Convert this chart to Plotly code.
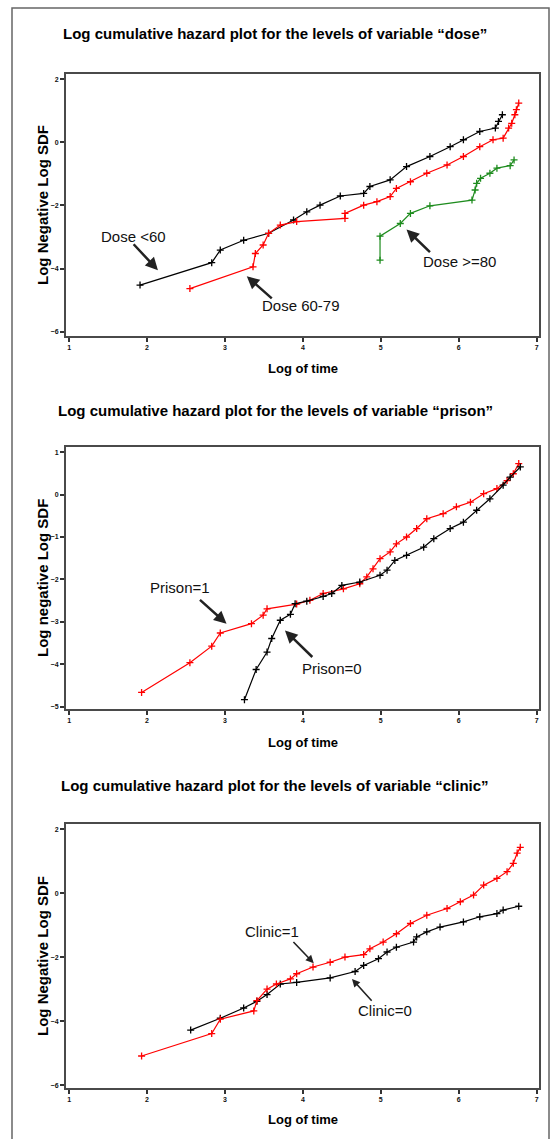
import plotly.graph_objects as go

W, H = 551, 1139

# ---------------- data (log time, log(-log S)) ----------------
dose_lt60_x = [1.91, 2.83, 2.94, 3.24, 3.56, 3.88, 4.05, 4.22, 4.48, 4.78, 4.86, 5.12, 5.33, 5.63, 5.89, 6.06, 6.27, 6.47, 6.51, 6.56]
dose_lt60_y = [-4.52, -3.81, -3.41, -3.10, -2.88, -2.46, -2.20, -1.99, -1.70, -1.62, -1.40, -1.19, -0.77, -0.45, -0.14, 0.08, 0.34, 0.45, 0.66, 0.87]

dose_6079_x = [2.55, 3.36, 3.39, 3.49, 3.56, 3.71, 3.92, 4.54, 4.54, 4.78, 4.95, 5.12, 5.20, 5.38, 5.59, 5.85, 6.06, 6.27, 6.44, 6.57, 6.64, 6.68, 6.72, 6.74, 6.77]
dose_6079_y = [-4.63, -3.94, -3.52, -3.25, -2.88, -2.62, -2.51, -2.41, -2.25, -1.99, -1.88, -1.72, -1.46, -1.25, -0.98, -0.72, -0.45, -0.14, 0.08, 0.13, 0.45, 0.60, 0.87, 1.03, 1.24]

dose_ge80_x = [4.99, 4.99, 5.25, 5.38, 5.63, 6.17, 6.21, 6.23, 6.28, 6.40, 6.49, 6.66, 6.71]
dose_ge80_y = [-3.73, -2.97, -2.57, -2.25, -2.01, -1.83, -1.51, -1.30, -1.14, -0.98, -0.82, -0.74, -0.56]

prison1_x = [1.93, 2.55, 2.83, 2.94, 3.34, 3.49, 3.54, 3.92, 4.09, 4.26, 4.52, 4.73, 4.82, 4.90, 4.99, 5.12, 5.20, 5.33, 5.46, 5.59, 5.80, 5.97, 6.15, 6.32, 6.49, 6.62, 6.70, 6.77]
prison1_y = [-4.66, -3.96, -3.57, -3.26, -3.04, -2.84, -2.69, -2.58, -2.49, -2.33, -2.22, -2.10, -1.94, -1.75, -1.51, -1.35, -1.16, -1.00, -0.80, -0.57, -0.45, -0.29, -0.18, 0.02, 0.14, 0.33, 0.49, 0.73]

prison0_x = [3.25, 3.40, 3.54, 3.60, 3.71, 3.84, 3.90, 4.05, 4.26, 4.37, 4.50, 4.73, 4.99, 5.08, 5.18, 5.33, 5.55, 5.68, 5.89, 6.06, 6.23, 6.40, 6.57, 6.66, 6.79]
prison0_y = [-4.83, -4.12, -3.71, -3.39, -2.96, -2.82, -2.57, -2.51, -2.40, -2.33, -2.14, -2.06, -1.90, -1.78, -1.55, -1.43, -1.24, -1.04, -0.80, -0.65, -0.37, -0.10, 0.22, 0.41, 0.65]

clinic1_x = [1.93, 2.83, 2.94, 3.37, 3.41, 3.54, 3.66, 3.84, 3.92, 4.13, 4.35, 4.54, 4.78, 4.86, 5.03, 5.20, 5.38, 5.59, 5.85, 6.02, 6.19, 6.32, 6.49, 6.62, 6.70, 6.75, 6.79]
clinic1_y = [-5.09, -4.39, -3.94, -3.68, -3.36, -3.00, -2.84, -2.68, -2.52, -2.31, -2.16, -2.00, -1.92, -1.74, -1.53, -1.27, -0.95, -0.69, -0.48, -0.27, -0.06, 0.25, 0.46, 0.67, 0.93, 1.25, 1.43]

clinic0_x = [2.56, 2.94, 3.24, 3.41, 3.54, 3.71, 3.92, 4.35, 4.67, 4.78, 4.97, 5.08, 5.20, 5.42, 5.46, 5.59, 5.76, 6.06, 6.27, 6.49, 6.57, 6.77]
clinic0_y = [-4.28, -3.91, -3.59, -3.38, -3.17, -2.84, -2.79, -2.65, -2.45, -2.26, -2.05, -1.84, -1.69, -1.53, -1.37, -1.21, -1.06, -0.90, -0.74, -0.64, -0.53, -0.41]

titles = ['Log cumulative hazard plot for the levels of variable \u201cdose\u201d',
          'Log cumulative hazard plot for the levels of variable \u201cprison\u201d',
          'Log cumulative hazard plot for the levels of variable \u201cclinic\u201d']
ytitles = ['Log Negative Log SDF', 'Log negative Log SDF', 'Log Negative Log SDF']
xtitle = 'Log of time'
x_ticks = [1, 2, 3, 4, 5, 6, 7]
y_ticks_1 = [2, 0, -2, -4, -6]
y_ticks_2 = [1, 0, -1, -2, -3, -4, -5]
y_ticks_3 = [2, 0, -2, -4, -6]

# ---------------- layout geometry (pixels) ----------------
px_left, px_right = 66, 539
panels = [(74, 336), (447, 709), (824, 1088)]  # top, bottom in px
yranges = [[-6.13, 2.16], [-5.05, 1.12], [-6.09, 2.16]]
xrange_ = [0.96, 7.03]

def fx(p):
    return p / W

def fy(p):
    return 1 - p / H

def bold_ticks(vals):
    return ['<b>%s</b>' % ('\u2212%d' % -v if v < 0 else '%d' % v) for v in vals]

fig = go.Figure()

BLACK = '#000000'
RED = '#ff0000'
GREEN = '#1e8c1e'

def add_curve(x, y, color, idx):
    axn = '' if idx == 1 else str(idx)
    fig.add_trace(go.Scatter(
        x=x, y=y, mode='lines+markers',
        line=dict(color=color, width=1.2),
        marker=dict(symbol='cross-thin', size=5, line=dict(color=color, width=1.3)),
        xaxis='x' + axn, yaxis='y' + axn, showlegend=False, hoverinfo='skip'))

add_curve(dose_lt60_x, dose_lt60_y, BLACK, 1)
add_curve(dose_6079_x, dose_6079_y, RED, 1)
add_curve(dose_ge80_x, dose_ge80_y, GREEN, 1)
add_curve(prison1_x, prison1_y, RED, 2)
add_curve(prison0_x, prison0_y, BLACK, 2)
add_curve(clinic0_x, clinic0_y, BLACK, 3)
add_curve(clinic1_x, clinic1_y, RED, 3)

axis_common = dict(showline=True, mirror=True, linecolor='#4a4a4a', linewidth=2,
                   ticks='outside', ticklen=4, tickwidth=1.5, tickcolor='#333',
                   showgrid=False, zeroline=False,
                   tickfont=dict(family='Arial', size=7, color='#111'))

layout = dict(width=W, height=H, margin=dict(l=0, r=0, t=0, b=0),
              paper_bgcolor='white', plot_bgcolor='white', showlegend=False)
yticks_all = [y_ticks_1, y_ticks_2, y_ticks_3]
for i, (top, bot) in enumerate(panels):
    n = '' if i == 0 else str(i + 1)
    layout['xaxis' + n] = dict(axis_common, domain=[fx(px_left), fx(px_right)], range=xrange_,
                               tickvals=x_ticks, ticktext=bold_ticks(x_ticks), anchor='y' + n)
    layout['yaxis' + n] = dict(axis_common, domain=[fy(bot), fy(top)], range=yranges[i],
                               tickvals=yticks_all[i], ticktext=bold_ticks(yticks_all[i]), anchor='x' + n)
fig.update_layout(**layout)

ann = []
title_y = [33, 410, 785]
xt_y = [368, 742, 1119]
for i in range(3):
    ann.append(dict(text='<b>%s</b>' % titles[i], x=fx(275), y=fy(title_y[i]), xref='paper', yref='paper',
                    showarrow=False, font=dict(family='Arial', size=15, color='black'),
                    xanchor='center', yanchor='middle'))
    ann.append(dict(text='<b>%s</b>' % xtitle, x=fx((px_left + px_right) / 2), y=fy(xt_y[i]),
                    xref='paper', yref='paper', showarrow=False,
                    font=dict(family='Arial', size=13, color='black'), xanchor='center', yanchor='middle'))
    top, bot = panels[i]
    ann.append(dict(text='<b>%s</b>' % ytitles[i], x=fx(42), y=fy((top + bot) / 2),
                    xref='paper', yref='paper', showarrow=False, textangle=-90,
                    font=dict(family='Arial', size=15, color='black'), xanchor='center', yanchor='middle'))

labels = [
    # text, x, y, tail_x, tail_y, head_x, head_y, panel, arrow width
    ('Dose <60', 1.83, -2.97, 1.81, -3.18, 2.14, -4.05, 1, 2.5),
    ('Dose 60-79', 3.97, -5.16, 3.62, -4.98, 3.28, -4.24, 1, 2.5),
    ('Dose >=80', 6.01, -3.78, 5.65, -3.52, 5.33, -2.76, 1, 2.5),
    ('Prison=1', 2.42, -2.20, 2.66, -2.45, 3.02, -3.04, 2, 2.5),
    ('Prison=0', 4.37, -4.10, 4.14, -3.86, 3.77, -3.20, 2, 2.5),
    ('Clinic=1', 3.60, -1.21, 3.86, -1.48, 4.14, -2.19, 3, 1.6),
    ('Clinic=0', 5.05, -3.68, 4.90, -3.41, 4.63, -2.68, 3, 1.6),
]
for t, tx, ty, ax_, ay_, hx, hy, p, aw in labels:
    n = '' if p == 1 else str(p)
    ann.append(dict(text=t, x=tx, y=ty, xref='x' + n, yref='y' + n, showarrow=False,
                    font=dict(family='Arial', size=15, color='#111'), xanchor='center', yanchor='middle'))
    ann.append(dict(text='', x=hx, y=hy, ax=ax_, ay=ay_, xref='x' + n, yref='y' + n,
                    axref='x' + n, ayref='y' + n, showarrow=True, arrowhead=2, arrowsize=1,
                    arrowwidth=aw, arrowcolor='#222'))
fig.update_layout(annotations=ann)

fig.add_shape(type='rect', xref='paper', yref='paper', x0=fx(12), x1=fx(549), y0=fy(1150), y1=fy(8),
              line=dict(color='#666', width=1.5), fillcolor='rgba(0,0,0,0)', layer='above')

fig.write_html('out.html', config={'displayModeBar': False},
               post_script="document.body.style.margin='0';document.body.style.overflow='hidden';")
